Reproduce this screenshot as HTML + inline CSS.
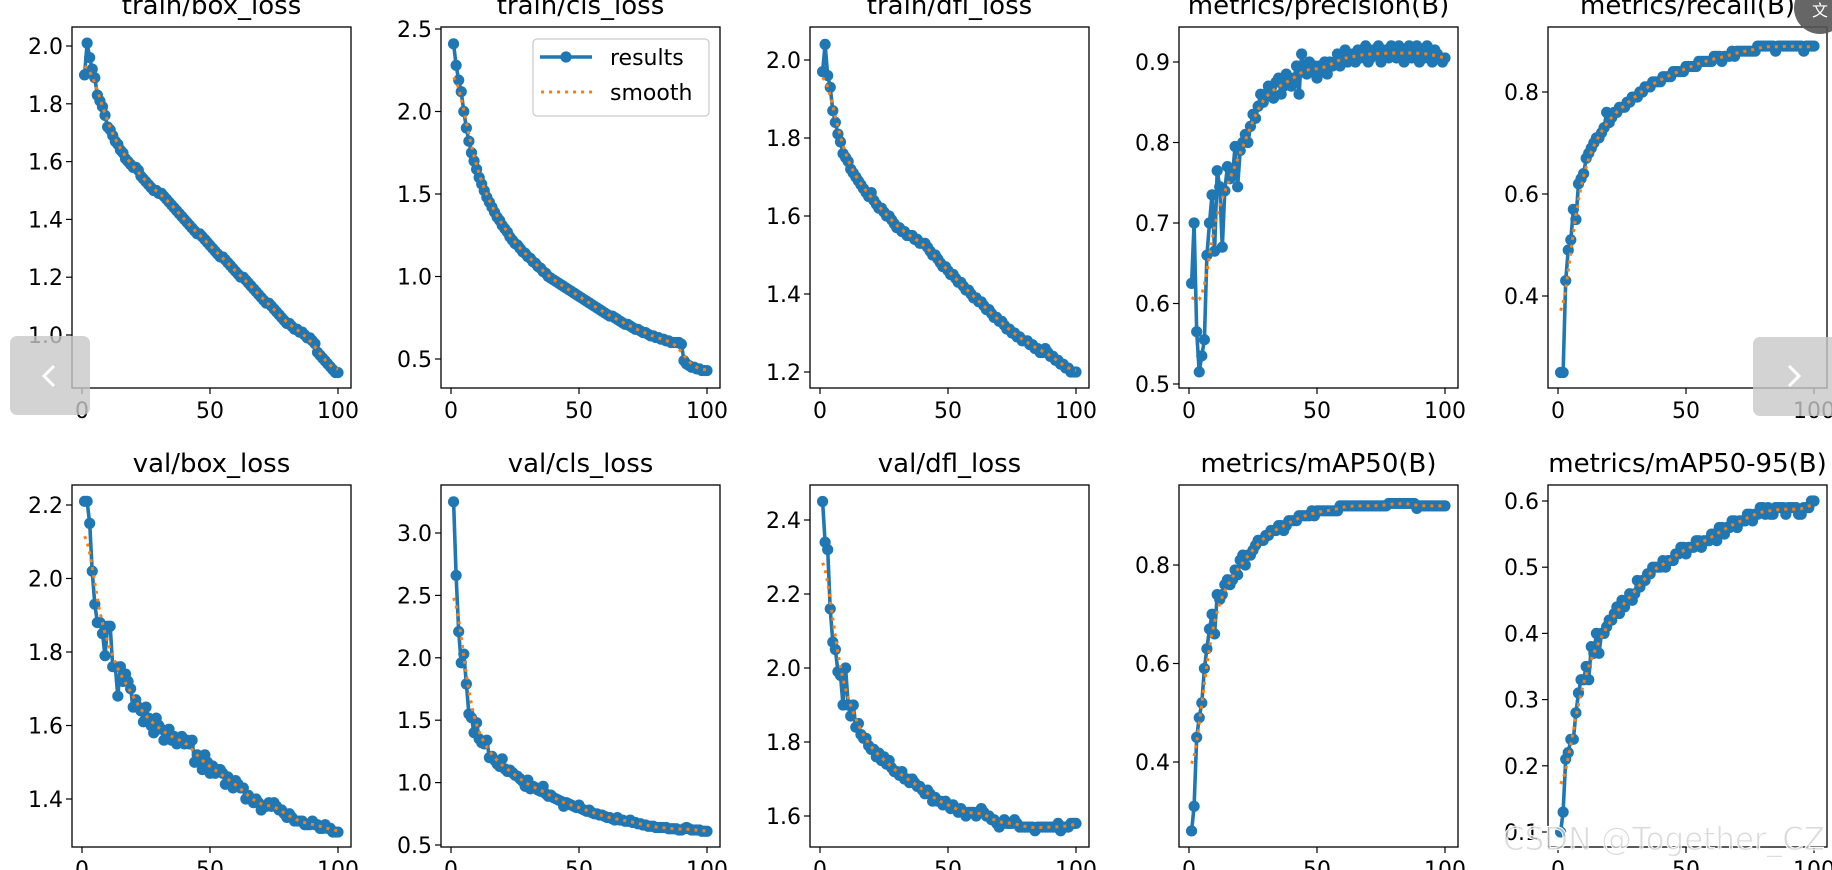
<!DOCTYPE html>
<html><head><meta charset="utf-8">
<style>
html,body{margin:0;padding:0;background:#fff;width:1832px;height:870px;overflow:hidden}
svg{display:block;font-family:"DejaVu Sans","Liberation Sans",sans-serif}
</style></head>
<body>
<svg id="fig" width="1832" height="870" viewBox="0 0 1832 870" xmlns="http://www.w3.org/2000/svg"></svg>
<script>
const epochs = Array.from({length:100},(_,i)=>i+1);
const xTicks = [0,50,100];
const trainBox = [1.90,2.01,1.96,1.92,1.89,1.83,1.81,1.79,1.76,1.72,1.71,1.69,1.67,1.66,1.64,1.63,1.61,1.60,1.59,1.58,1.58,1.57,1.55,1.54,1.53,1.52,1.51,1.50,1.50,1.49,1.49,1.48,1.47,1.46,1.45,1.44,1.43,1.42,1.41,1.40,1.39,1.38,1.37,1.36,1.35,1.35,1.34,1.33,1.32,1.31,1.30,1.29,1.28,1.27,1.27,1.26,1.25,1.24,1.23,1.22,1.21,1.20,1.20,1.19,1.18,1.17,1.16,1.15,1.14,1.13,1.12,1.11,1.11,1.10,1.09,1.08,1.07,1.06,1.05,1.04,1.04,1.03,1.02,1.02,1.01,1.01,1.00,0.99,0.99,0.98,0.97,0.94,0.93,0.92,0.91,0.90,0.89,0.88,0.87,0.87];
const trainCls = [2.41,2.28,2.19,2.12,2.00,1.90,1.82,1.75,1.70,1.65,1.60,1.56,1.52,1.48,1.45,1.42,1.39,1.36,1.34,1.31,1.29,1.27,1.24,1.22,1.20,1.19,1.17,1.15,1.14,1.12,1.11,1.09,1.08,1.06,1.05,1.03,1.02,1.00,0.99,0.98,0.97,0.96,0.95,0.94,0.93,0.92,0.91,0.90,0.89,0.88,0.87,0.86,0.85,0.84,0.83,0.82,0.81,0.80,0.79,0.78,0.77,0.76,0.76,0.75,0.74,0.73,0.72,0.71,0.71,0.70,0.69,0.68,0.68,0.67,0.66,0.66,0.65,0.64,0.64,0.63,0.63,0.62,0.62,0.61,0.61,0.60,0.60,0.60,0.60,0.59,0.49,0.47,0.46,0.45,0.45,0.44,0.44,0.43,0.43,0.43];
const trainDfl = [1.97,2.04,1.96,1.93,1.87,1.84,1.81,1.79,1.76,1.75,1.74,1.72,1.71,1.70,1.69,1.68,1.67,1.66,1.65,1.66,1.64,1.63,1.62,1.62,1.61,1.60,1.60,1.59,1.58,1.57,1.57,1.56,1.56,1.55,1.55,1.55,1.54,1.54,1.53,1.53,1.53,1.52,1.51,1.50,1.50,1.49,1.48,1.47,1.47,1.46,1.45,1.45,1.44,1.43,1.43,1.42,1.41,1.41,1.40,1.39,1.39,1.38,1.38,1.37,1.36,1.36,1.35,1.34,1.34,1.33,1.33,1.32,1.31,1.31,1.30,1.30,1.29,1.29,1.28,1.28,1.28,1.27,1.27,1.26,1.26,1.25,1.25,1.26,1.25,1.24,1.24,1.23,1.23,1.22,1.22,1.21,1.21,1.20,1.20,1.20];
const precision = [0.625,0.70,0.565,0.515,0.535,0.555,0.66,0.70,0.735,0.665,0.765,0.745,0.67,0.74,0.77,0.755,0.76,0.795,0.745,0.79,0.80,0.81,0.80,0.82,0.835,0.83,0.845,0.86,0.85,0.86,0.87,0.86,0.855,0.875,0.88,0.86,0.87,0.885,0.875,0.87,0.88,0.895,0.86,0.91,0.89,0.885,0.90,0.89,0.895,0.88,0.895,0.89,0.90,0.885,0.90,0.895,0.90,0.91,0.895,0.905,0.915,0.90,0.905,0.91,0.90,0.915,0.905,0.91,0.92,0.90,0.905,0.915,0.91,0.92,0.90,0.91,0.915,0.905,0.92,0.91,0.905,0.92,0.91,0.90,0.915,0.92,0.905,0.91,0.92,0.90,0.915,0.905,0.92,0.91,0.90,0.915,0.91,0.905,0.90,0.905];
const recall = [0.25,0.25,0.43,0.49,0.51,0.57,0.55,0.62,0.63,0.64,0.67,0.68,0.69,0.70,0.71,0.71,0.72,0.73,0.76,0.74,0.75,0.76,0.76,0.77,0.77,0.77,0.78,0.78,0.79,0.79,0.79,0.80,0.80,0.81,0.81,0.81,0.82,0.82,0.82,0.82,0.83,0.83,0.83,0.83,0.84,0.84,0.84,0.84,0.84,0.85,0.85,0.85,0.85,0.85,0.86,0.86,0.86,0.86,0.86,0.86,0.87,0.87,0.87,0.86,0.87,0.87,0.87,0.88,0.87,0.88,0.88,0.88,0.88,0.88,0.88,0.88,0.88,0.89,0.89,0.89,0.89,0.89,0.89,0.89,0.88,0.89,0.89,0.89,0.89,0.89,0.89,0.89,0.89,0.89,0.89,0.88,0.89,0.89,0.89,0.89];
const valBox = [2.21,2.21,2.15,2.02,1.93,1.88,1.88,1.85,1.79,1.87,1.87,1.76,1.76,1.68,1.76,1.72,1.74,1.72,1.70,1.65,1.67,1.65,1.64,1.61,1.65,1.62,1.60,1.58,1.62,1.60,1.59,1.56,1.58,1.59,1.56,1.57,1.55,1.56,1.57,1.55,1.56,1.55,1.56,1.50,1.52,1.51,1.48,1.52,1.50,1.47,1.49,1.47,1.48,1.48,1.47,1.44,1.46,1.45,1.43,1.45,1.44,1.43,1.43,1.40,1.41,1.40,1.39,1.40,1.39,1.37,1.38,1.38,1.39,1.38,1.39,1.38,1.37,1.37,1.36,1.35,1.36,1.35,1.34,1.34,1.34,1.34,1.33,1.33,1.33,1.34,1.33,1.33,1.32,1.32,1.33,1.32,1.32,1.31,1.31,1.31];
const valCls = [3.25,2.66,2.21,1.96,2.03,1.79,1.55,1.52,1.40,1.48,1.35,1.32,1.31,1.34,1.20,1.21,1.18,1.15,1.13,1.19,1.11,1.09,1.10,1.08,1.06,1.05,1.03,1.01,0.97,1.02,0.95,0.97,0.96,0.94,0.93,0.97,0.91,0.89,0.90,0.88,0.87,0.86,0.85,0.81,0.84,0.83,0.82,0.81,0.80,0.82,0.79,0.78,0.77,0.78,0.76,0.75,0.75,0.74,0.74,0.73,0.72,0.72,0.71,0.70,0.72,0.70,0.70,0.69,0.69,0.70,0.68,0.68,0.67,0.67,0.66,0.66,0.65,0.65,0.65,0.64,0.64,0.64,0.64,0.64,0.63,0.63,0.63,0.63,0.62,0.62,0.63,0.64,0.63,0.62,0.62,0.62,0.62,0.61,0.61,0.61];
const valDfl = [2.45,2.34,2.32,2.16,2.07,2.05,1.99,1.98,1.90,2.00,1.90,1.87,1.90,1.84,1.85,1.82,1.81,1.81,1.79,1.78,1.78,1.76,1.77,1.75,1.76,1.74,1.75,1.73,1.72,1.72,1.71,1.72,1.70,1.70,1.69,1.70,1.69,1.68,1.68,1.67,1.66,1.67,1.66,1.64,1.65,1.64,1.64,1.63,1.64,1.63,1.62,1.63,1.62,1.61,1.62,1.61,1.60,1.61,1.61,1.61,1.60,1.61,1.62,1.61,1.60,1.60,1.59,1.59,1.58,1.57,1.58,1.59,1.58,1.58,1.58,1.59,1.58,1.57,1.57,1.57,1.57,1.57,1.57,1.56,1.57,1.57,1.57,1.57,1.57,1.57,1.57,1.57,1.58,1.56,1.57,1.57,1.57,1.58,1.58,1.58];
const map50 = [0.26,0.31,0.45,0.49,0.52,0.59,0.63,0.67,0.70,0.66,0.74,0.73,0.74,0.76,0.77,0.76,0.77,0.79,0.78,0.81,0.82,0.80,0.82,0.82,0.83,0.84,0.85,0.85,0.85,0.86,0.86,0.87,0.87,0.87,0.88,0.88,0.87,0.88,0.89,0.89,0.89,0.89,0.90,0.90,0.90,0.90,0.90,0.91,0.90,0.91,0.91,0.91,0.91,0.91,0.91,0.91,0.91,0.91,0.92,0.92,0.92,0.92,0.92,0.92,0.92,0.92,0.92,0.92,0.92,0.92,0.92,0.92,0.92,0.92,0.92,0.92,0.92,0.925,0.925,0.925,0.925,0.925,0.925,0.925,0.925,0.925,0.925,0.925,0.915,0.92,0.92,0.92,0.92,0.92,0.92,0.92,0.92,0.92,0.92,0.92];
const map5095 = [0.10,0.13,0.21,0.22,0.24,0.24,0.28,0.31,0.33,0.33,0.35,0.33,0.38,0.37,0.40,0.37,0.40,0.40,0.41,0.42,0.42,0.43,0.44,0.43,0.45,0.44,0.45,0.46,0.45,0.46,0.48,0.47,0.48,0.48,0.49,0.49,0.50,0.50,0.50,0.50,0.51,0.50,0.51,0.51,0.51,0.52,0.52,0.53,0.53,0.52,0.53,0.53,0.53,0.54,0.54,0.53,0.54,0.54,0.54,0.55,0.55,0.54,0.56,0.56,0.55,0.56,0.56,0.57,0.57,0.56,0.57,0.57,0.57,0.58,0.58,0.57,0.58,0.58,0.59,0.59,0.58,0.59,0.58,0.58,0.59,0.59,0.59,0.59,0.58,0.59,0.59,0.59,0.59,0.58,0.58,0.59,0.59,0.59,0.60,0.60];
const titles = ["train/box_loss","train/cls_loss","train/dfl_loss","metrics/precision(B)","metrics/recall(B)","val/box_loss","val/cls_loss","val/dfl_loss","metrics/mAP50(B)","metrics/mAP50-95(B)"];
const series = [trainBox,trainCls,trainDfl,precision,recall,valBox,valCls,valDfl,map50,map5095];
const yTicks = [[1.0,1.2,1.4,1.6,1.8,2.0],[0.5,1.0,1.5,2.0,2.5],[1.2,1.4,1.6,1.8,2.0],[0.5,0.6,0.7,0.8,0.9],[0.4,0.6,0.8],[1.4,1.6,1.8,2.0,2.2],[0.5,1.0,1.5,2.0,2.5,3.0],[1.6,1.8,2.0,2.2,2.4],[0.4,0.6,0.8],[0.1,0.2,0.3,0.4,0.5,0.6]];

// layout (pixel calibration, not data)
const lefts=[72,441,810,1179,1548], W=279;
const rows=[{top:27,bot:388,tb:14},{top:485,bot:847,tb:472}];
const yCal=[[2.0,46,1.0,335],[2.5,29,0.5,359],[2.0,60,1.2,372],[0.9,62,0.5,384],[0.8,92,0.4,296],
            [2.2,505,1.4,799],[3.0,533,0.5,845],[2.4,520,1.6,816],[0.8,565,0.4,762],[0.6,501,0.1,832]];

function smooth(arr){
  const s=3,r=12,n=arr.length,out=[];
  const w=[];for(let k=-r;k<=r;k++)w.push(Math.exp(-k*k/(2*s*s)));
  const ws=w.reduce((a,b)=>a+b,0);
  for(let i=0;i<n;i++){let acc=0;for(let k=-r;k<=r;k++){let j=i+k;if(j<0)j=-j-1;if(j>=n)j=2*n-j-1;acc+=w[k+r]*arr[j];}out.push(acc/ws);}
  return out;
}
const NS="http://www.w3.org/2000/svg";
const svg=document.getElementById('fig');
function el(tag,attrs,parent){const e=document.createElementNS(NS,tag);for(const k in attrs)e.setAttribute(k,attrs[k]);(parent||svg).appendChild(e);return e;}
function fmt(v){return v.toFixed(1);}

series.forEach((data,p)=>{
  const row=rows[Math.floor(p/5)], L=lefts[p%5];
  const g=el('g',{});
  
  
  const c=yCal[p];
  const y=v=>c[1]+(v-c[0])*(c[3]-c[1])/(c[2]-c[0]);
  const x=v=>L+10+v*2.56;
  const t=el('text',{x:L+W/2,y:row.tb,'text-anchor':'middle','font-size':26,fill:'#000'},g);
  t.textContent=titles[p];
  
  
  yTicks[p].forEach(v=>{
    const py=y(v);
    el('line',{x1:L-6,x2:L,y1:py,y2:py,stroke:'#000','stroke-width':1.2},g);
    const tl=el('text',{x:L-9,y:py+8,'text-anchor':'end','font-size':22,fill:'#000'},g);
    tl.textContent=fmt(v);
    
    
  });
  xTicks.forEach(v=>{
    const px=x(v);
    el('line',{x1:px,x2:px,y1:row.bot,y2:row.bot+6,stroke:'#000','stroke-width':1.2},g);
    const tl=el('text',{x:px,y:row.bot+30,'text-anchor':'middle','font-size':22,fill:'#000'},g);
    tl.textContent=String(v);
    
    
  });
  const pts=data.map((v,i)=>x(epochs[i]).toFixed(1)+','+y(v).toFixed(1)).join(' ');
  const line=el('polyline',{points:pts,fill:'none',stroke:'#1f77b4','stroke-width':3.6,'stroke-linejoin':'round'},g);
  
  
  data.forEach((v,i)=>{
    const m=el('circle',{cx:x(epochs[i]),cy:y(v),r:5.6,fill:'#1f77b4'},g);
    
    
  });
  const sm=smooth(data);
  const sp=sm.map((v,i)=>x(epochs[i]).toFixed(1)+','+y(v).toFixed(1)).join(' ');
  const sl=el('polyline',{points:sp,fill:'none',stroke:'#ff7f0e','stroke-width':3,'stroke-dasharray':'3,5'},g);
  
  
  const fr=el('rect',{x:L,y:row.top,width:W,height:row.bot-row.top,fill:'none',stroke:'#000','stroke-width':1.3},g);
  
  
});

const lg=el('g',{});


el('rect',{x:533,y:39,width:176,height:77,rx:4,fill:'#fff','fill-opacity':0.85,stroke:'#ccc','stroke-width':1.3},lg);
el('line',{x1:540,x2:592,y1:57,y2:57,stroke:'#1f77b4','stroke-width':3.6},lg);
el('circle',{cx:566,cy:57,r:5.6,fill:'#1f77b4'},lg);
const lt1=el('text',{x:610,y:65,'font-size':22,fill:'#000'},lg);lt1.textContent='results';


el('line',{x1:541,x2:592,y1:92,y2:92,stroke:'#ff7f0e','stroke-width':3,'stroke-dasharray':'3,5'},lg);
const lt2=el('text',{x:610,y:100,'font-size':22,fill:'#000'},lg);lt2.textContent='smooth';


</script>
<svg style="position:absolute;left:0;top:0" width="1832" height="870">
  <g>
    <rect x="10" y="336" width="80" height="79" rx="7" fill="#c8c8c8" fill-opacity="0.8"/>
    <polyline points="54,366 44,376 54,386" fill="none" stroke="#fff" stroke-width="3"/>
  </g>
  <g>
    <rect x="1753" y="337" width="90" height="79" rx="7" fill="#c8c8c8" fill-opacity="0.8"/>
    <polyline points="1789,366 1799,376 1789,386" fill="none" stroke="#fff" stroke-width="3"/>
  </g>
  <g>
    <circle cx="1820" cy="8" r="26" fill="#555" fill-opacity="0.9"/>
    <text x="1820" y="16" text-anchor="middle" font-size="16" fill="#fff" font-family="Noto Sans CJK SC, sans-serif">文</text>
  </g>
  <text x="1503" y="850" font-size="32" textLength="322" lengthAdjust="spacingAndGlyphs" font-family="DejaVu Sans, sans-serif" fill="#cfcfcf" fill-opacity="0.75" stroke="#fff" stroke-width="1">CSDN @Together_CZ</text>
</svg>
</body></html>
